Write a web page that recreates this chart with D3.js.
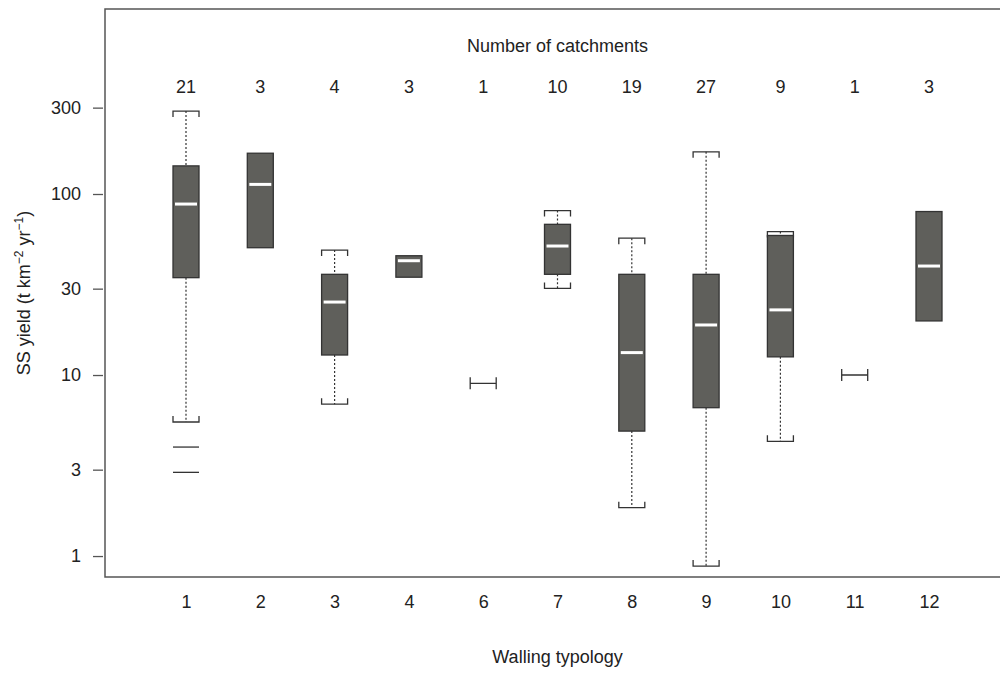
<!DOCTYPE html>
<html>
<head>
<meta charset="utf-8">
<script src="https://cdnjs.cloudflare.com/ajax/libs/d3/7.8.5/d3.min.js"></script>
<style>
  body { margin: 0; background: #fff; }
  svg text { font-family: "Liberation Sans", Arial, sans-serif; fill: #222; }
  .axis .domain { display: none; }
  .axis line { stroke: #555; stroke-width: 1.3; }
  .axis text { font-size: 18px; }
</style>
</head>
<body>
<script>
// walling typology categories and number of catchments
var categories = ["1", "2", "3", "4", "6", "7", "8", "9", "10", "11", "12"];
var counts     = [21, 3, 4, 3, 1, 10, 19, 27, 9, 1, 3];

// box statistics (t km-2 yr-1); null = no whisker drawn
var whiskerHigh = [287, null, 49, null, null, 81, 57, 171, 62, null, null];
var q3          = [143, 168, 36, 45.6, null, 68, 36, 36, 59, null, 80];
var medians     = [88, 113, 25.3, 42.8, 9.0, 51.6, 13.3, 18.9, 22.9, 10.0, 40];
var q1          = [34.5, 50.5, 12.9, 34.7, null, 36, 4.9, 6.6, 12.6, null, 19.9];
var whiskerLow  = [5.5, null, 6.9, null, null, 30.1, 1.85, 0.88, 4.3, null, null];
var outliers    = [[4.0, 2.9], [], [], [], [], [], [], [], [], [], []];

var yTicks = [1, 3, 10, 30, 100, 300];

var w = 1000, h = 673;
var plotLeft = 105, plotTop = 9, plotBottom = 577;
var boxW = 26, capTick = 6;

var svg = d3.select("body").append("svg")
  .attr("width", w)
  .attr("height", h);

var xScale = d3.scalePoint()
  .domain(categories)
  .range([186, 929]);

var yScale = d3.scaleLog()
  .domain([0.766, 1052])
  .range([plotBottom, plotTop]);

// frame (right side runs off the picture)
svg.append("path")
  .attr("d", "M1002," + plotTop + "H" + plotLeft + "V" + plotBottom + "H1002")
  .attr("fill", "none")
  .attr("stroke", "#555")
  .attr("stroke-width", 1.5);

// axes
var yAxis = d3.axisLeft(yScale)
  .tickValues(yTicks)
  .tickFormat(d3.format("d"))
  .tickSize(10)
  .tickPadding(12);
svg.append("g")
  .attr("class", "axis")
  .attr("transform", "translate(" + (plotLeft - 2) + ",0)")
  .call(yAxis);

var xAxis = d3.axisBottom(xScale)
  .tickSize(0)
  .tickPadding(18);
svg.append("g")
  .attr("class", "axis")
  .attr("transform", "translate(0," + plotBottom + ")")
  .call(xAxis);

// titles
svg.append("text")
  .attr("x", xScale("7"))
  .attr("y", 52)
  .attr("text-anchor", "middle")
  .style("font-size", "18px")
  .text("Number of catchments");

svg.selectAll(".count")
  .data(categories)
  .enter().append("text")
  .attr("class", "count")
  .attr("x", function(d) { return xScale(d); })
  .attr("y", 93)
  .attr("text-anchor", "middle")
  .style("font-size", "18px")
  .text(function(d, i) { return counts[i]; });

svg.append("text")
  .attr("x", xScale("7"))
  .attr("y", 663)
  .attr("text-anchor", "middle")
  .style("font-size", "18px")
  .text("Walling typology");

var yLab = svg.append("text")
  .attr("transform", "translate(30," + ((plotTop + plotBottom) / 2) + ") rotate(-90)")
  .attr("text-anchor", "middle")
  .style("font-size", "18px");
yLab.append("tspan").text("SS yield (t km");
yLab.append("tspan").attr("dy", -7).style("font-size", "12px").text("\u22122");
yLab.append("tspan").attr("dy", 7).text(" yr");
yLab.append("tspan").attr("dy", -7).style("font-size", "12px").text("\u22121");
yLab.append("tspan").attr("dy", 7).text(")");

// boxes
var ink = "#333";
categories.forEach(function(c, i) {
  var cx = xScale(c);
  var g = svg.append("g");

  if (q1[i] === null) {
    // single catchment: horizontal bar with end ticks
    var ys = yScale(medians[i]);
    g.append("path")
      .attr("d", "M" + (cx - boxW / 2) + "," + (ys - capTick) + "v" + (2 * capTick) +
                 "M" + (cx - boxW / 2) + "," + ys + "H" + (cx + boxW / 2) +
                 "M" + (cx + boxW / 2) + "," + (ys - capTick) + "v" + (2 * capTick))
      .attr("fill", "none").attr("stroke", ink).attr("stroke-width", 1.3);
    return;
  }

  // whiskers
  if (whiskerHigh[i] !== null) {
    var yh = yScale(whiskerHigh[i]);
    g.append("line")
      .attr("x1", cx).attr("x2", cx)
      .attr("y1", yh).attr("y2", yScale(q3[i]))
      .attr("stroke", ink).attr("stroke-width", 1.2)
      .attr("stroke-dasharray", "2,2");
    g.append("path")
      .attr("d", "M" + (cx - boxW / 2) + "," + (yh + capTick) + "V" + yh +
                 "H" + (cx + boxW / 2) + "V" + (yh + capTick))
      .attr("fill", "none").attr("stroke", ink).attr("stroke-width", 1.3);
  }
  if (whiskerLow[i] !== null) {
    var yl = yScale(whiskerLow[i]);
    g.append("line")
      .attr("x1", cx).attr("x2", cx)
      .attr("y1", yScale(q1[i])).attr("y2", yl)
      .attr("stroke", ink).attr("stroke-width", 1.2)
      .attr("stroke-dasharray", "2,2");
    g.append("path")
      .attr("d", "M" + (cx - boxW / 2) + "," + (yl - capTick) + "V" + yl +
                 "H" + (cx + boxW / 2) + "V" + (yl - capTick))
      .attr("fill", "none").attr("stroke", ink).attr("stroke-width", 1.3);
  }

  // box
  g.append("rect")
    .attr("x", cx - boxW / 2)
    .attr("y", yScale(q3[i]))
    .attr("width", boxW)
    .attr("height", yScale(q1[i]) - yScale(q3[i]))
    .attr("fill", "#5f5f5b")
    .attr("stroke", ink)
    .attr("stroke-width", 1.3);

  // median
  g.append("line")
    .attr("x1", cx - boxW / 2 + 2).attr("x2", cx + boxW / 2 - 2)
    .attr("y1", yScale(medians[i])).attr("y2", yScale(medians[i]))
    .attr("stroke", "#fff").attr("stroke-width", 3);

  // outliers drawn as short lines
  outliers[i].forEach(function(v) {
    g.append("line")
      .attr("x1", cx - boxW / 2).attr("x2", cx + boxW / 2)
      .attr("y1", yScale(v)).attr("y2", yScale(v))
      .attr("stroke", ink).attr("stroke-width", 1.3);
  });
});
</script>
</body>
</html>
